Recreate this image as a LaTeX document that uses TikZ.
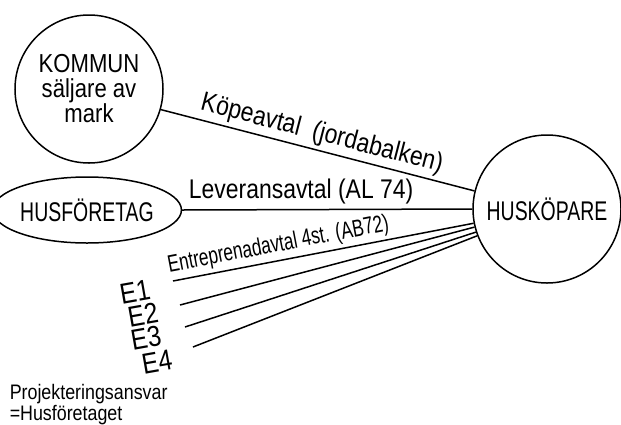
\documentclass[tikz,border=0pt]{standalone}
\usepackage{fontspec}
\setmainfont[FakeStretch=0.85]{Liberation Sans}
\newfontfamily\narrowhand[FakeStretch=0.72]{Liberation Sans}
\usetikzlibrary{shapes.geometric}
\tikzset{
	party/.style={draw,inner sep=0pt,align=center,font=\narrowhand\fontsize{27}{29}\selectfont},
	deal/.style={font=\fontsize{27}{29}\selectfont},
	enum/.style={font=\fontsize{29}{31}\selectfont,rotate=10}
}
\begin{document}
\begin{tikzpicture}[x=1pt,y=-1pt,line width=1.5pt]
		\useasboundingbox (0,0) rectangle (621,424);

		\draw (89,89) node (kommun) [party,circle,minimum size=148pt,font=\fontsize{26}{25}\selectfont] {KOMMUN\\säljare av\\mark};
		\draw (87,210) node (husf) [party,ellipse,minimum width=152pt,minimum height=66pt] {HUSFÖRETAG};
		\draw (547,209) node (husk) [party,circle,minimum size=148pt] {HUSKÖPARE};

		\draw (kommun.344) -- (husk.166) node[deal,pos=0.5,above=0pt,sloped] {Köpeavtal \ (jordabalken)};
		\draw (husf.east) -- (husk.west) node[deal,pos=0.41,above=1pt] {Leveransavtal (AL 74)};

		\coordinate (e1) at (173,281);
		\coordinate (e2) at (180,305);
		\coordinate (e3) at (185,327);
		\coordinate (e4) at (193,347);

		\draw (e1) -- (husk.191.5) node[pos=0.36,above=0pt,sloped,font=\narrowhand\fontsize{24}{26}\selectfont] {Entreprenadavtal 4st. (AB72)};
		\draw (e2) -- (husk.194.5);
		\draw (e3) -- (husk.198);
		\draw (e4) -- (husk.201);

		\draw (135,292) node (n1) [enum] {E1};
		\draw (143,315) node (n2) [enum] {E2};
		\draw (146,338) node (n3) [enum] {E3};
		\draw (157,362) node (n4) [enum] {E4};

		\draw (7,382) node (proj) [anchor=north west,align=left,inner sep=2pt,font=\fontsize{21}{18}\selectfont] {Projekteringsansvar\\=Husföretaget};
	\end{tikzpicture}
\end{document}
